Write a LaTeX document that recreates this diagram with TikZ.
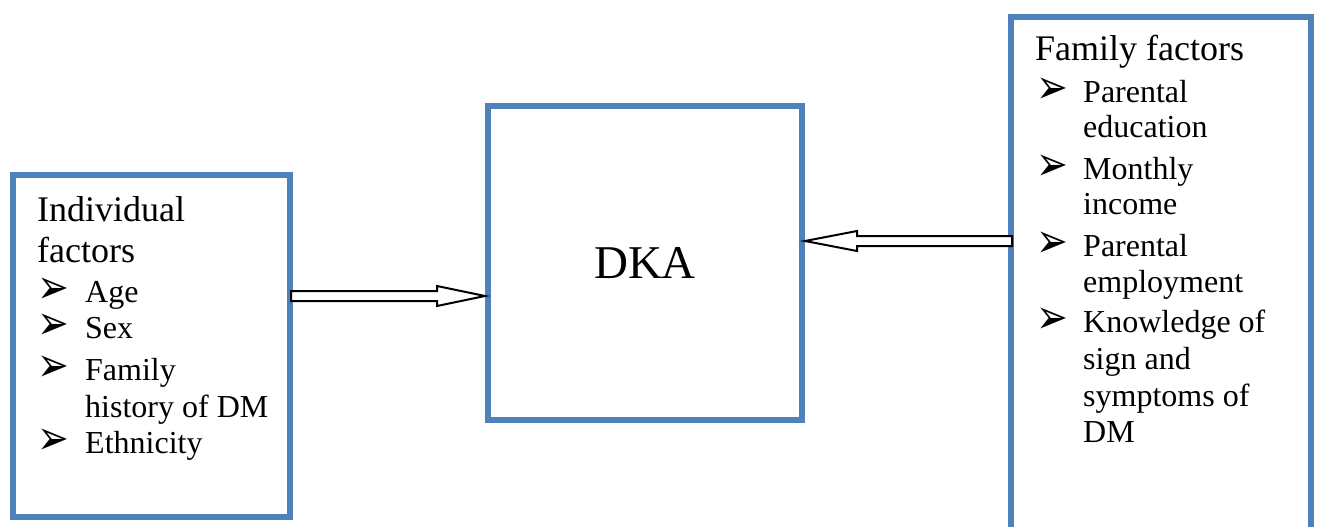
\documentclass[tikz,border=0pt]{standalone}
\usepackage{fontspec}
\setmainfont{Liberation Serif}
\newfontfamily\symfont{DejaVu Sans}
\usetikzlibrary{calc}
\definecolor{boxblue}{HTML}{4F81BD}
\newcommand{\arrbul}{\scalebox{0.95}[1.2]{\symfont\fontsize{40}{44}\selectfont ➢}}
\tikzset{
  box/.style={draw=boxblue, line width=6pt, fill=white, inner sep=0pt, anchor=north west},
  title/.style={anchor=base west, inner sep=0pt, font=\fontsize{36}{40}\selectfont},
  item/.style={anchor=base west, inner sep=0pt, font=\fontsize{32}{36}\selectfont},
  bul/.style={anchor=base west, inner sep=0pt, text height=18pt, text depth=0pt},
  hollow/.style={draw=black, line width=2pt, fill=white, line join=miter},
}
\begin{document}
\begin{tikzpicture}[x=1pt, y=-1pt]
\clip (0,0) rectangle (1319,527);
\fill[white] (0,0) rectangle (1319,527);
% boxes
\node[box, minimum width=277pt, minimum height=342pt] (L) at (10,172) {};
\node[box, minimum width=314pt, minimum height=314pt] (C) at (485,103) {};
\node[box, minimum width=300pt, minimum height=540pt] (R) at (1008,14) {};
\node[font=\fontsize{47}{50}\selectfont, inner sep=0pt] (dka) at (C.center) {DKA};
% left text
\node[title] (lt1) at (37,221) {Individual};
\node[title] (lt2) at (37,262) {factors};
\node[bul] (lb1) at (37,303) {\arrbul};
\node[item] (li1) at (85,302) {Age};
\node[bul] (lb2) at (37,339) {\arrbul};
\node[item] (li2) at (85,338) {Sex};
\node[bul] (lb3) at (37,381) {\arrbul};
\node[item] (li3a) at (85,380) {Family};
\node[item] (li3b) at (85,417) {history of DM};
\node[bul] (lb4) at (37,454) {\arrbul};
\node[item] (li4) at (85,453) {Ethnicity};
% right text
\node[title] (rt1) at (1035,60) {Family factors};
\node[bul] (rb1) at (1036,103) {\arrbul};
\node[item] (ri1a) at (1083,102) {Parental};
\node[item] (ri1b) at (1083,137) {education};
\node[bul] (rb2) at (1036,180) {\arrbul};
\node[item] (ri2a) at (1083,179) {Monthly};
\node[item] (ri2b) at (1083,214) {income};
\node[bul] (rb3) at (1036,257) {\arrbul};
\node[item] (ri3a) at (1083,256) {Parental};
\node[item] (ri3b) at (1083,292) {employment};
\node[bul] (rb4) at (1036,333) {\arrbul};
\node[item] (ri4a) at (1083,332) {Knowledge of};
\node[item] (ri4b) at (1083,369) {sign and};
\node[item] (ri4c) at (1083,406) {symptoms of};
\node[item] (ri4d) at (1083,442) {DM};
% arrows
\coordinate (ya) at (0,296);
\coordinate (yb) at (0,241);
\coordinate (s1) at (L.east |- ya);
\coordinate (t1) at (C.west |- ya);
\draw[hollow] ($(s1)+(-2,-5)$) -- ($(t1)+(-48,-5)$) -- ($(t1)+(-48,-10)$) -- (t1)
  -- ($(t1)+(-48,10)$) -- ($(t1)+(-48,5)$) -- ($(s1)+(-2,5)$) -- cycle;
\coordinate (s2) at (R.west |- yb);
\coordinate (t2) at (C.east |- yb);
\draw[hollow] ($(s2)+(4,-5)$) -- ($(t2)+(52,-5)$) -- ($(t2)+(52,-10)$) -- (t2)
  -- ($(t2)+(52,10)$) -- ($(t2)+(52,5)$) -- ($(s2)+(4,5)$) -- cycle;
\end{tikzpicture}
\end{document}
